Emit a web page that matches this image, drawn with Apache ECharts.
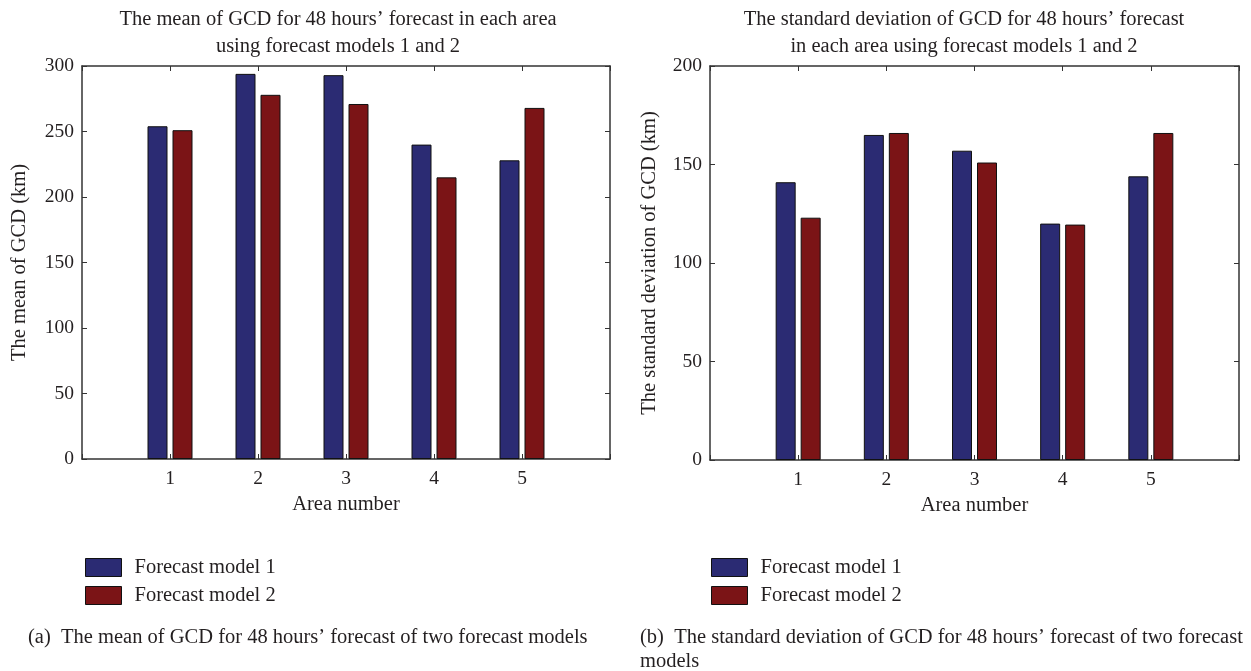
<!DOCTYPE html>
<html>
<head>
<meta charset="utf-8">
<script src="https://cdn.jsdelivr.net/npm/echarts@6/dist/echarts.min.js"></script>
<style>
html,body{margin:0;padding:0;background:#fff;}
#chart{width:1251px;height:671px;}
</style>
</head>
<body>
<div id="chart"></div>
<script>
const areas = [1, 2, 3, 4, 5];
const seriesNames = ['Forecast model 1', 'Forecast model 2'];
const meanModel1 = [254, 294, 293, 240, 228];
const meanModel2 = [251, 278, 271, 215, 268];
const stdModel1 = [141, 165, 157, 120, 144];
const stdModel2 = [123, 166, 151, 119.5, 166];

const FONT = '"Liberation Serif", "DejaVu Serif", serif';
const TXT = '#231f20';
const AX = '#333333';
const BLUE = '#2b2b73';
const RED = '#7b1416';
const FS = 20.5;
const TICKFS = 19.5;

function pairs(vals) { return areas.map((a, i) => [a, vals[i]]); }

function xAxes(gi) {
  return [{
    type: 'value', gridIndex: gi, min: 0, max: 6, interval: 1, position: 'bottom',
    name: 'Area number', nameLocation: 'middle', nameGap: 32,
    nameTextStyle: { fontFamily: FONT, fontSize: FS, color: TXT },
    axisLine: { show: true, onZero: false, lineStyle: { color: AX, width: 1.5 } },
    axisTick: { show: true, inside: true, length: 5, lineStyle: { color: AX } },
    axisLabel: { fontFamily: FONT, fontSize: TICKFS, color: TXT, margin: 10,
      formatter: v => (v >= 1 && v <= 5) ? String(v) : '' },
    splitLine: { show: false }
  }, {
    type: 'value', gridIndex: gi, min: 0, max: 6, interval: 1, position: 'top',
    axisLine: { show: true, onZero: false, lineStyle: { color: AX, width: 1.5 } },
    axisTick: { show: true, inside: true, length: 5, lineStyle: { color: AX } },
    axisLabel: { show: false }, splitLine: { show: false }
  }];
}
function yAxes(gi, max, name, gap) {
  return [{
    type: 'value', gridIndex: gi, min: 0, max: max, interval: 50, position: 'left',
    name: name, nameLocation: 'middle', nameGap: gap,
    nameTextStyle: { fontFamily: FONT, fontSize: FS, color: TXT },
    axisLine: { show: true, onZero: false, lineStyle: { color: AX, width: 1.5 } },
    axisTick: { show: true, inside: true, length: 5, lineStyle: { color: AX } },
    axisLabel: { fontFamily: FONT, fontSize: TICKFS, color: TXT, margin: 8 },
    splitLine: { show: false }
  }, {
    type: 'value', gridIndex: gi, min: 0, max: max, interval: 50, position: 'right',
    axisLine: { show: true, onZero: false, lineStyle: { color: AX, width: 1.5 } },
    axisTick: { show: true, inside: true, length: 5, lineStyle: { color: AX } },
    axisLabel: { show: false }, splitLine: { show: false }
  }];
}
function bar(name, vals, gi, color) {
  return {
    type: 'bar', name: name, xAxisIndex: gi * 2, yAxisIndex: gi * 2,
    data: pairs(vals), barWidth: 20, barGap: '25%',
    itemStyle: { color: color, borderColor: '#111', borderWidth: 1 }
  };
}
function legend(left) {
  return {
    orient: 'vertical', left: left, top: 552, itemWidth: 36, itemHeight: 18, itemGap: 7,
    icon: 'rect', data: seriesNames, selectedMode: false,
    textStyle: { fontFamily: FONT, fontSize: FS, color: TXT, padding: [0, 0, 0, 8] },
    itemStyle: { borderColor: '#111', borderWidth: 1 }
  };
}

const chart = echarts.init(document.getElementById('chart'), null, { renderer: 'canvas' });
chart.setOption({
  animation: false,
  backgroundColor: '#fff',
  title: [
    { text: 'The mean of GCD for 48 hours\u2019 forecast in each area\nusing forecast models 1 and 2',
      left: 333, top: 1, textAlign: 'center',
      textStyle: { fontFamily: FONT, fontSize: FS, fontWeight: 'normal', color: TXT, lineHeight: 27 } },
    { text: 'The standard deviation of GCD for 48 hours\u2019 forecast\nin each area using forecast models 1 and 2',
      left: 959, top: 1, textAlign: 'center',
      textStyle: { fontFamily: FONT, fontSize: FS, fontWeight: 'normal', color: TXT, lineHeight: 27 } },
    { text: '(a)  The mean of GCD for 48 hours\u2019 forecast of two forecast models',
      left: 23, top: 621,
      textStyle: { fontFamily: FONT, fontSize: FS, fontWeight: 'normal', color: TXT, lineHeight: 24 } },
    { text: '(b)  The standard deviation of GCD for 48 hours\u2019 forecast of two forecast\nmodels',
      left: 635, top: 621,
      textStyle: { fontFamily: FONT, fontSize: FS, fontWeight: 'normal', color: TXT, lineHeight: 24 } }
  ],
  legend: [legend(80), legend(706)],
  grid: [
    { left: 82, top: 66, width: 528, height: 393 },
    { left: 710, top: 66, width: 529, height: 394 }
  ],
  xAxis: [...xAxes(0), ...xAxes(1)],
  yAxis: [...yAxes(0, 300, 'The mean of GCD (km)', 52), ...yAxes(1, 200, 'The standard deviation of GCD (km)', 50)],
  series: [
    bar(seriesNames[0], meanModel1, 0, BLUE),
    bar(seriesNames[1], meanModel2, 0, RED),
    bar(seriesNames[0], stdModel1, 1, BLUE),
    bar(seriesNames[1], stdModel2, 1, RED)
  ]
});
</script>
</body>
</html>
